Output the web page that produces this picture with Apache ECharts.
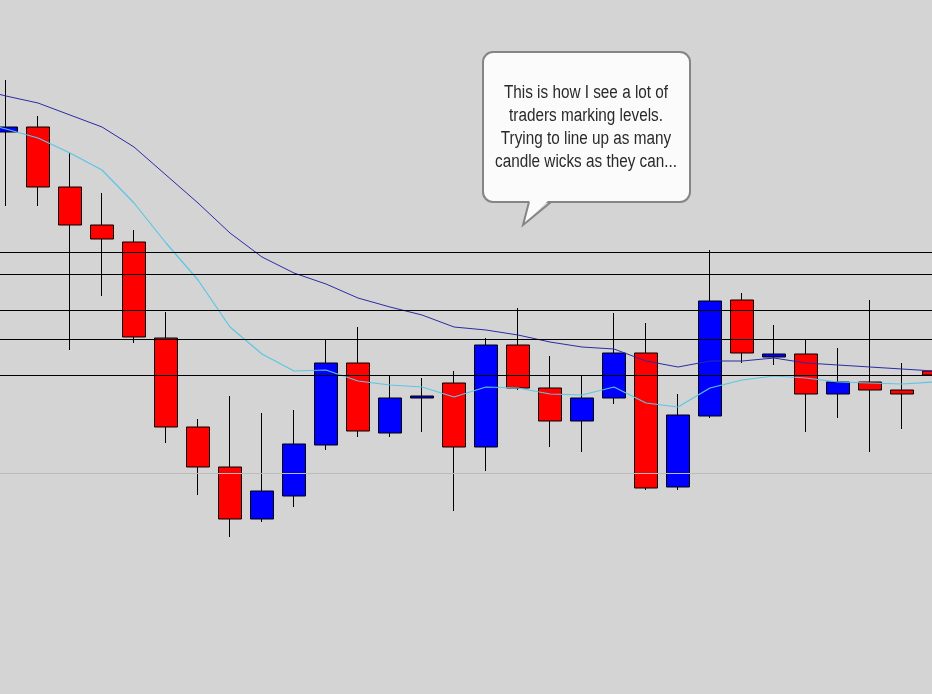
<!DOCTYPE html>
<html>
<head>
<meta charset="utf-8">
<script src="https://cdn.jsdelivr.net/npm/echarts@6/dist/echarts.min.js"></script>
<style>
html,body{margin:0;padding:0;background:#d4d4d4;}
#chart{width:932px;height:694px;}
</style>
</head>
<body>
<div id="chart"></div>
<script>
// Bar index (time order)
const categories = ['b1','b2','b3','b4','b5','b6','b7','b8','b9','b10','b11','b12','b13','b14','b15',
                    'b16','b17','b18','b19','b20','b21','b22','b23','b24','b25','b26','b27','b28','b29','b30'];
// OHLC (price units)
const opens  = [562,567,507,469,452,356,267,227,175,198,249,331,261,296,311,247,349,306,273,296,341,207,278,394,337,340,300,312,304,323];
const closes = [567,507,469,455,357,267,227,175,203,250,331,263,296,298,247,349,306,273,296,341,206,279,393,341,340,300,312,304,300,319];
const lows   = [488,488,344,398,351,251,199,157,172,187,244,257,257,262,183,223,304,247,242,290,204,204,276,331,329,262,276,242,265,314];
const highs  = [614,578,541,501,464,382,275,298,281,284,355,367,318,316,323,356,386,338,318,381,371,300,444,401,369,355,346,394,331,328];
// Moving averages (first value belongs to the bar just before b1, off-screen)
const slowMA = [606,598,591,579,567,547,519,491,461,437,421,410,396,387,379,367,364,359,352,347,345,333,327,333,333,336,331,329,327,325,323];
const fastMA = [573,565,556,541,524,491,451,414,367,340,323,324,313,309,307,297,307,306,300,299,307,291,287,306,314,318,316,312,311,310,312];
// Horizontal levels drawn by the trader
const levels = [441.5,419.7,383.7,354.7,318.7];
const faintLevel = 220.7;
const bubbleLines = ['This is how I see a lot of','traders marking levels.','Trying to line up as many','candle wicks as they can...'];

const ohlc = categories.map((c,i)=>[i,opens[i],closes[i],lows[i],highs[i]]);
const slowPts = slowMA.map((v,i)=>[i-1,v]);
const fastPts = fastMA.map((v,i)=>[i-1,v]);

const chart = echarts.init(document.getElementById('chart'), null, {renderer:'canvas'});
chart.setOption({
  animation:false,
  backgroundColor:'#d4d4d4',
  grid:{left:0,right:0,top:0,bottom:0,containLabel:false},
  xAxis:{type:'value',min:-0.1875,max:28.9375,show:false,splitLine:{show:false}},
  yAxis:{type:'value',min:0,max:694,show:false,splitLine:{show:false}},
  series:[
    {
      type:'candlestick',
      data:ohlc,
      encode:{x:0,y:[1,2,3,4]},
      barWidth:24,
      clip:false,
      itemStyle:{color:'#0000ff',color0:'#ff0000',borderColor:'#000000',borderColor0:'#000000',borderWidth:1},
      markLine:{
        silent:true,symbol:['none','none'],label:{show:false},
        data:levels.map(v=>({yAxis:v,lineStyle:{color:'#000000',width:1,type:'solid'}}))
          .concat([{yAxis:faintLevel,lineStyle:{color:'#bcbcbc',width:1,type:'solid'}}])
      }
    },
    {type:'line',data:slowPts,symbol:'none',clip:false,lineStyle:{color:'#2b2ba6',width:1},z:4},
    {type:'line',data:fastPts,symbol:'none',clip:false,lineStyle:{color:'#5bc6e4',width:1.2},z:4}
  ],
  graphic:[
    {type:'rect',z:100,shape:{x:483,y:52,width:207,height:150,r:10},
     style:{fill:'#fbfbfb',stroke:'#858585',lineWidth:2}},
    {type:'polygon',z:101,shape:{points:[[530,199],[523,225],[550,199]]},
     style:{fill:'#fbfbfb'}},
    {type:'polyline',z:102,shape:{points:[[529,202],[523,225],[551,202]]},
     style:{fill:null,stroke:'#858585',lineWidth:2}},
    {type:'text',z:103,x:586,y:128,scaleX:0.85,
     style:{text:bubbleLines.join('\n'),fontSize:18,fontFamily:'Liberation Sans',fill:'#2a2a2a',align:'center',verticalAlign:'middle',lineHeight:23}}
  ]
});
</script>
</body>
</html>
